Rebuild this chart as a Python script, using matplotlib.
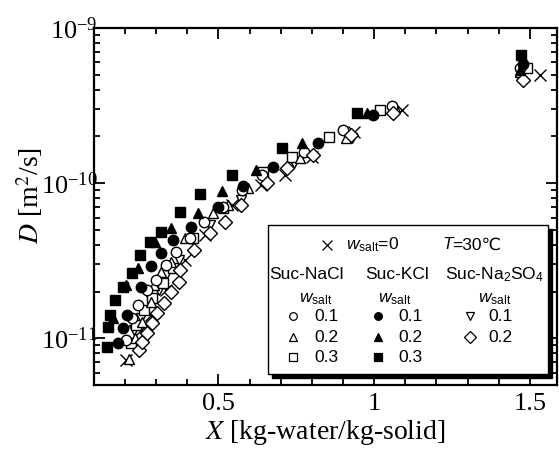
import matplotlib
matplotlib.use('Agg')
import matplotlib.pyplot as plt
from matplotlib.patches import Rectangle
from matplotlib.ticker import MultipleLocator, LogLocator, NullFormatter, FuncFormatter

plt.rcParams['font.family'] = ['Liberation Serif', 'DejaVu Serif']
plt.rcParams['mathtext.fontset'] = 'custom'
plt.rcParams['mathtext.rm'] = 'Liberation Sans'
plt.rcParams['mathtext.it'] = 'Liberation Sans:italic'

# data: X [kg-water/kg-solid], D [m2/s]
x_w0 = [0.202, 0.250, 0.282, 0.330, 0.394, 0.458, 0.545, 0.635, 0.715, 0.801, 0.936, 1.090, 1.532]
d_w0 = [7.2e-12, 1.13e-11, 1.41e-11, 2.04e-11, 3.19e-11, 4.62e-11, 7.21e-11, 9.7e-11, 1.13e-10,
        1.47e-10, 2.13e-10, 2.96e-10, 4.97e-10]

x_nacl_1 = [0.202, 0.221, 0.240, 0.269, 0.298, 0.330, 0.365, 0.410, 0.452, 0.513, 0.577, 0.641,
            0.776, 0.901, 1.058, 1.468]
d_nacl_1 = [9.7e-12, 1.35e-11, 1.63e-11, 2.04e-11, 2.37e-11, 2.96e-11, 3.59e-11, 4.42e-11, 5.6e-11,
            7.0e-11, 9.02e-11, 1.13e-10, 1.58e-10, 2.20e-10, 3.14e-10, 5.52e-10]
x_nacl_2 = [0.212, 0.231, 0.256, 0.282, 0.292, 0.314, 0.346, 0.394, 0.481, 0.532, 0.596, 0.763,
            0.910, 1.067, 1.468]
d_nacl_2 = [7.4e-12, 1.0e-11, 1.27e-11, 1.71e-11, 2.20e-11, 2.67e-11, 3.09e-11, 4.42e-11, 6.4e-11,
            7.21e-11, 9.29e-11, 1.45e-10, 1.95e-10, 3.09e-10, 5.20e-10]
x_nacl_3 = [0.218, 0.234, 0.260, 0.288, 0.321, 0.353, 0.417, 0.513, 0.644, 0.737, 0.856, 1.019, 1.490]
d_nacl_3 = [9.3e-12, 1.21e-11, 1.52e-11, 1.81e-11, 2.26e-11, 2.83e-11, 4.42e-11, 6.9e-11, 1.18e-10,
            1.47e-10, 1.98e-10, 2.96e-10, 5.52e-10]

x_kcl_1 = [0.176, 0.192, 0.205, 0.250, 0.282, 0.317, 0.353, 0.413, 0.500, 0.580, 0.676, 0.821,
           0.997, 1.478]
d_kcl_1 = [9.3e-12, 1.16e-11, 1.41e-11, 2.13e-11, 2.92e-11, 3.53e-11, 4.29e-11, 5.2e-11, 7.0e-11,
           9.57e-11, 1.27e-10, 1.81e-10, 2.75e-10, 5.86e-10]
x_kcl_2 = [0.160, 0.202, 0.240, 0.295, 0.346, 0.433, 0.510, 0.619, 0.769, 0.978, 1.468]
d_kcl_2 = [1.35e-11, 2.2e-11, 2.83e-11, 4.16e-11, 5.13e-11, 6.4e-11, 8.87e-11, 1.21e-10, 1.81e-10,
           2.83e-10, 5.36e-10]
x_kcl_3 = [0.141, 0.144, 0.151, 0.167, 0.192, 0.221, 0.247, 0.279, 0.317, 0.375, 0.442, 0.545,
           0.705, 0.946, 1.471]
d_kcl_3 = [8.75e-12, 1.18e-11, 1.41e-11, 1.76e-11, 2.13e-11, 2.63e-11, 3.43e-11, 4.16e-11, 4.83e-11,
           6.5e-11, 8.5e-11, 1.13e-10, 1.68e-10, 2.83e-10, 6.7e-10]

x_na2so4_1 = [0.228, 0.250, 0.282, 0.308, 0.330, 0.372, 0.417, 0.474, 0.571, 0.744, 0.929, 1.478]
d_na2so4_1 = [1.13e-11, 1.35e-11, 1.76e-11, 2.04e-11, 2.55e-11, 3.19e-11, 4.29e-11, 5.36e-11,
              7.77e-11, 1.35e-10, 1.95e-10, 5.20e-10]
x_na2so4_2 = [0.244, 0.256, 0.272, 0.288, 0.304, 0.324, 0.346, 0.372, 0.378, 0.420, 0.474, 0.522,
              0.571, 0.657, 0.721, 0.804, 0.926, 1.061, 1.478]
d_na2so4_2 = [8.4e-12, 9.4e-12, 1.08e-11, 1.25e-11, 1.45e-11, 1.68e-11, 1.98e-11, 2.30e-11, 2.75e-11,
              3.70e-11, 4.75e-11, 5.6e-11, 7.21e-11, 1.0e-10, 1.25e-10, 1.52e-10, 2.04e-10, 2.83e-10,
              4.62e-10]

fig = plt.figure(figsize=(5.59, 4.55), dpi=100)
ax = fig.add_axes([0.168, 0.154, 0.8284, 0.7846])

ms = 7.5
op = dict(ls='none', mfc='white', mec='black', mew=1.0, ms=ms)
fl = dict(ls='none', mfc='black', mec='black', ms=ms)

ax.plot(x_w0, d_w0, 'x', color='black', ms=8, mew=1.0, ls='none')
ax.plot(x_na2so4_1, d_na2so4_1, 'v', **op)
ax.plot(x_nacl_3, d_nacl_3, 's', **op)
ax.plot(x_nacl_2, d_nacl_2, '^', **op)
ax.plot(x_nacl_1, d_nacl_1, 'o', **op)
ax.plot(x_na2so4_2, d_na2so4_2, 'D', ls='none', mfc='white', mec='black', mew=1.0, ms=7)
ax.plot(x_kcl_1, d_kcl_1, 'o', **fl)
ax.plot(x_kcl_2, d_kcl_2, '^', **fl)
ax.plot(x_kcl_3, d_kcl_3, 's', **fl)

ax.set_yscale('log')
ax.set_xlim(0.1, 1.587)
ax.set_ylim(5e-12, 1e-9)

ax.xaxis.set_major_locator(MultipleLocator(0.5))
ax.xaxis.set_minor_locator(MultipleLocator(0.1))
ax.xaxis.set_major_formatter(FuncFormatter(lambda v, p: '%g' % v))
ax.yaxis.set_major_locator(LogLocator(base=10, numticks=10))
ax.yaxis.set_minor_locator(LogLocator(base=10, subs=range(2, 10), numticks=10))
ax.yaxis.set_minor_formatter(NullFormatter())
ax.tick_params(which='both', direction='in', top=True, right=True, labelsize=19, width=1.3)
ax.tick_params(which='major', length=8)
ax.tick_params(which='minor', length=4.5)
ax.tick_params(axis='x', which='major', pad=6)
ax.tick_params(axis='y', which='major', pad=-2.5)
for s in ax.spines.values():
    s.set_linewidth(1.6)

ax.set_xlabel('$X$ [kg-water/kg-solid]', fontsize=20, math_fontfamily='stix', labelpad=2)
ax.set_ylabel('$D$ [m$^2$/s]', fontsize=20, math_fontfamily='stix')
ax.yaxis.set_label_coords(-0.105, 0.53)

# legend box drawn by hand (with shadow)
ax.add_patch(Rectangle((0.384, 0.020), 0.605, 0.418, transform=ax.transAxes,
                       facecolor='black', edgecolor='black', zorder=8, clip_on=False))
ax.add_patch(Rectangle((0.376, 0.031), 0.605, 0.417, transform=ax.transAxes,
                       facecolor='white', edgecolor='black', lw=1.0, zorder=9, clip_on=False))

sans = ['Liberation Sans', 'DejaVu Sans']
tk = dict(transform=ax.transAxes, zorder=10, fontsize=12.5, family=sans, va='center')

ax.plot([0.503], [0.392], 'x', color='black', ms=7, mew=0.9, transform=ax.transAxes, zorder=10,
        clip_on=False)
ax.text(0.545, 0.392, r'$w_{\rm salt}$=0', ha='left', **tk)
ax.text(0.752, 0.392, 'T', ha='left', style='italic', **tk)
ax.text(0.774, 0.392, '=30℃', ha='left', **tk)

groups = ['Suc-NaCl', 'Suc-KCl', 'Suc-Na$_2$SO$_4$']
group_cx = [0.460, 0.654, 0.866]
head_cx = [0.479, 0.650, 0.866]
for g, cx, hx in zip(groups, group_cx, head_cx):
    ax.text(cx, 0.308, g, ha='center', **tk)
    ax.text(hx, 0.240, r'$w_{\rm salt}$', ha='center', **tk)

w_levels = ['0.1', '0.2', '0.3']
row_y = [0.193, 0.134, 0.078]
leg_cols = [
    (0.430, 0.477, ['o', '^', 's'], 'white'),
    (0.613, 0.657, ['o', '^', 's'], 'black'),
    (0.812, 0.851, ['v', 'D'], 'white'),
]
for mx, tx, marks, fc in leg_cols:
    for m, lab, yy in zip(marks, w_levels, row_y):
        ax.plot([mx], [yy], m, mfc=fc, mec='black', mew=0.9, ms=5.5 if m != 'D' else 6.5,
                transform=ax.transAxes, zorder=10, clip_on=False)
        ax.text(tx, yy, lab, ha='left', **tk)

fig.savefig('out.png', dpi=100)
